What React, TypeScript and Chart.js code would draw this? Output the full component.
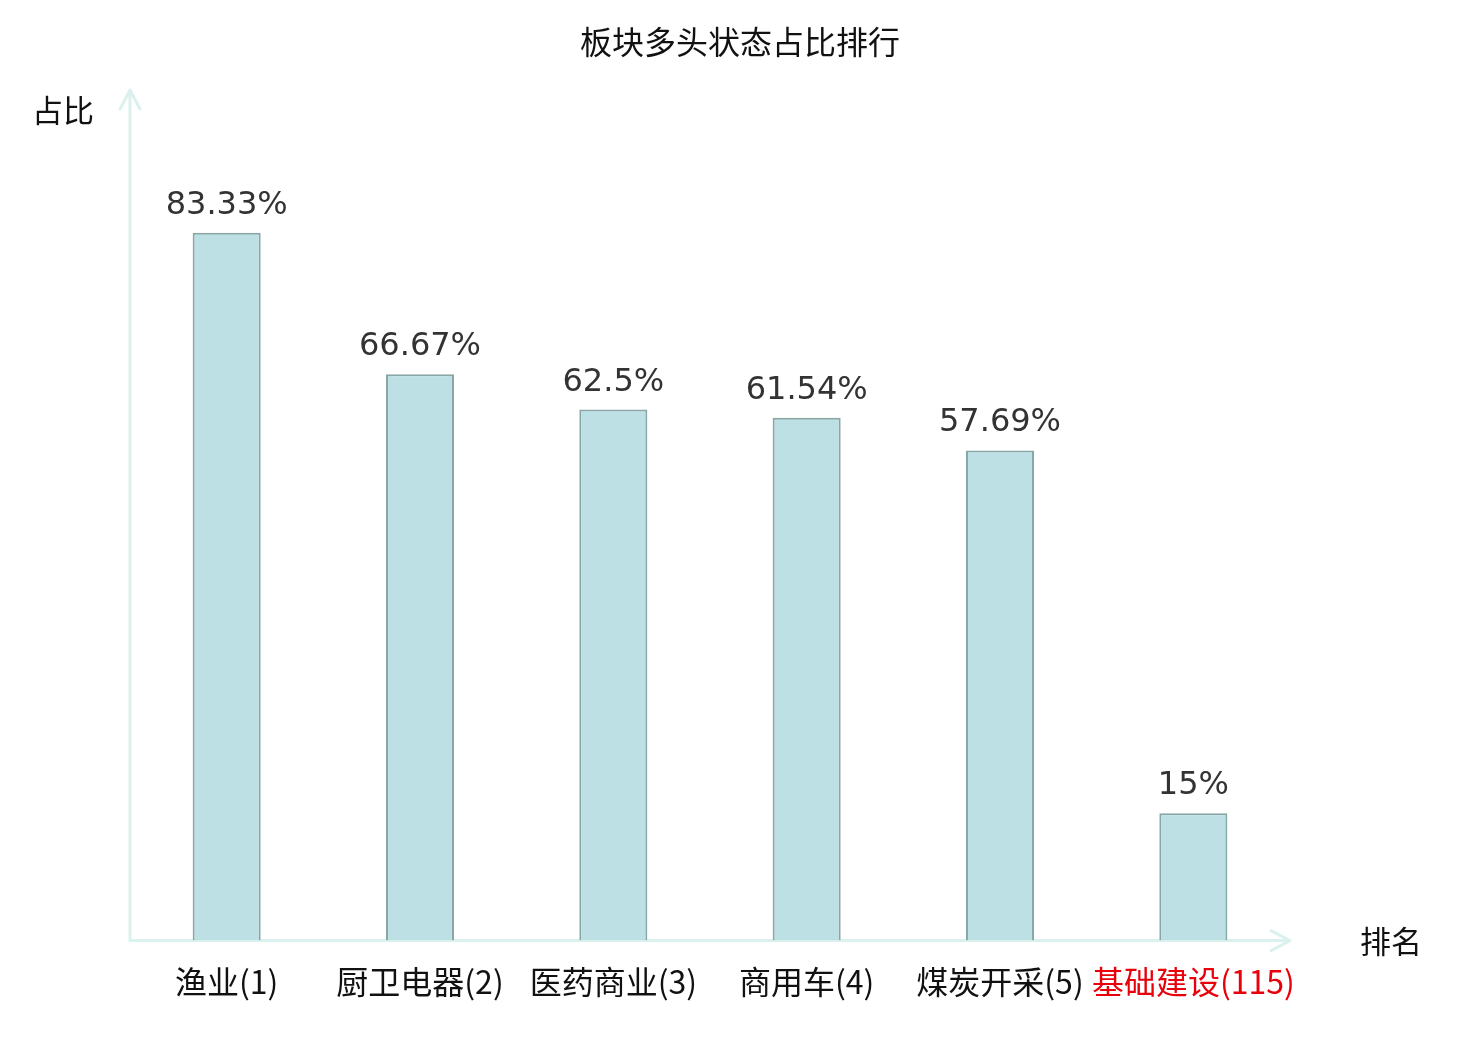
import { useEffect, useRef } from "react";
import { Chart, registerables, type Plugin } from "chart.js";

Chart.register(...registerables);

const categories = ["渔业", "厨卫电器", "医药商业", "商用车", "煤炭开采", "基础建设"];
const ranks = [1, 2, 3, 4, 5, 115];
const ratios = [83.33, 66.67, 62.5, 61.54, 57.69, 15];
const highlightIndex = 5;

const CJK = '"Noto Sans CJK SC", "Noto Sans", sans-serif';
const AXIS_COLOR = "#dbf1ee";

const decorPlugin: Plugin<"bar"> = {
  id: "decor",
  beforeDatasetsDraw(chart) {
    const { ctx, chartArea } = chart;
    const { left, right, top, bottom } = chartArea;
    ctx.save();
    ctx.strokeStyle = AXIS_COLOR;
    ctx.lineWidth = 3;
    ctx.lineCap = "round";
    ctx.lineJoin = "round";
    // y axis with arrow
    ctx.beginPath();
    ctx.moveTo(left, bottom);
    ctx.lineTo(left, top - 1);
    ctx.moveTo(left - 10, top + 18);
    ctx.lineTo(left, top - 1);
    ctx.lineTo(left + 10, top + 18);
    ctx.stroke();
    // x axis with arrow
    ctx.beginPath();
    ctx.moveTo(left, bottom);
    ctx.lineTo(right, bottom);
    ctx.moveTo(right - 19, bottom - 10);
    ctx.lineTo(right, bottom);
    ctx.lineTo(right - 19, bottom + 10);
    ctx.stroke();
    ctx.restore();
  },
  afterDatasetsDraw(chart) {
    const { ctx } = chart;
    const meta = chart.getDatasetMeta(0);
    ctx.save();
    ctx.font = '32px "DejaVu Sans", sans-serif';
    ctx.fillStyle = "#333333";
    ctx.textAlign = "center";
    ctx.textBaseline = "alphabetic";
    meta.data.forEach((bar, i) => {
      ctx.fillText(`${ratios[i]}%`, bar.x, bar.y - 19);
    });

    ctx.fillStyle = "#111111";
    ctx.textBaseline = "middle";
    ctx.font = `32px ${CJK}`;
    ctx.fillText("板块多头状态占比排行", chart.width / 2, 42);
    ctx.font = `31px ${CJK}`;
    ctx.fillText("占比", 63, 110);
    ctx.fillText("排名", 1391, 941);
    ctx.restore();
  },
};

export default function App() {
  const canvasRef = useRef<HTMLCanvasElement | null>(null);

  useEffect(() => {
    document.body.style.margin = "0";
    if (!canvasRef.current) return;
    const chart = new Chart(canvasRef.current, {
      type: "bar",
      data: {
        labels: categories.map((c, i) => `${c}(${ranks[i]})`),
        datasets: [
          {
            data: ratios,
            backgroundColor: "#bce0e3",
            borderColor: "#89a6a7",
            borderWidth: 2,
            barPercentage: 0.352,
            categoryPercentage: 1,
          },
        ],
      },
      options: {
        responsive: true,
        maintainAspectRatio: false,
        animation: false,
        layout: { padding: { left: 130, right: 190, top: 91, bottom: 17 } },
        plugins: {
          legend: { display: false },
          tooltip: { enabled: false },
          title: { display: false },
        },
        scales: {
          x: {
            grid: { display: false, drawTicks: false },
            border: { display: false },
            ticks: {
              padding: 22,
              autoSkip: false,
              maxRotation: 0,
              font: { family: CJK, size: 32 },
              color: (c) => (c.index === highlightIndex ? "#e8000b" : "#111111"),
            },
          },
          y: {
            display: false,
            min: 0,
            max: 100,
          },
        },
      },
      plugins: [decorPlugin],
    });
    return () => {
      chart.destroy();
    };
  }, []);

  return (
    <div style={{ width: 1480, height: 1040, position: "relative", background: "#ffffff" }}>
      <canvas ref={canvasRef} />
    </div>
  );
}
